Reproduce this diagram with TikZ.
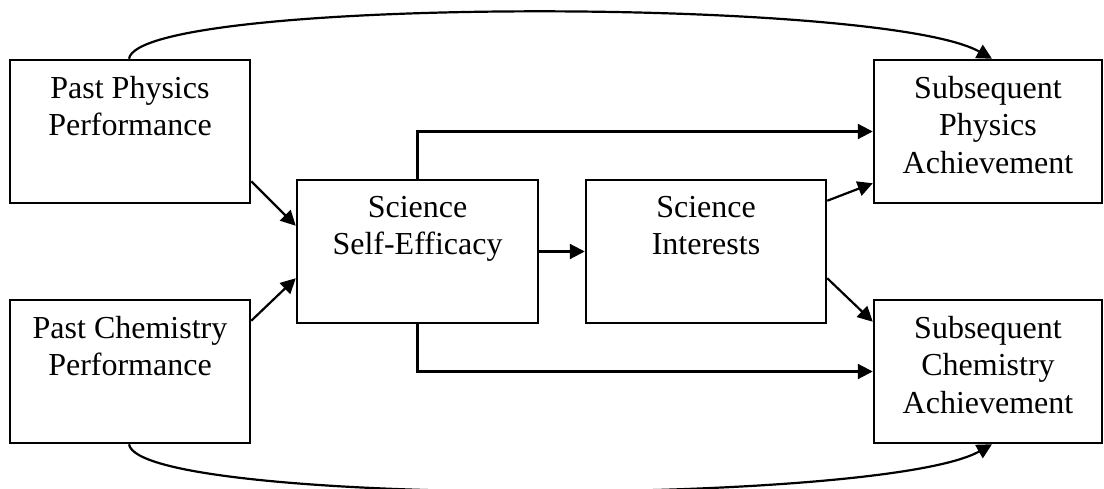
\documentclass[tikz,border=0pt]{standalone}
\usepackage{fontspec}
\setmainfont{Liberation Serif}
\usetikzlibrary{arrows.meta}

\tikzset{
    box/.style={rectangle, draw=black, line width=2.5pt, fill=white,
                minimum width=240pt, minimum height=143pt, inner sep=0pt},
    boxtext/.style={anchor=north, inner sep=0pt, yshift=-17pt, align=center,
                    font=\fontsize{32}{37.5}\selectfont}
}

\begin{document}
\begin{tikzpicture}[x=1pt, y=-1pt]
\useasboundingbox (0,0) rectangle (1104,489);

\node (pastphys) at (130, 131.5) [box, label={[boxtext]north:Past Physics\\Performance}] {};
\node (pastchem) at (130, 371.5) [box, label={[boxtext]north:Past Chemistry\\Performance}] {};

\node (selfeff) at (417.5, 251.5) [box, minimum width=241pt, label={[boxtext]north:Science\\Self-Efficacy}] {};
\node (interest) at (706, 251.5) [box, label={[boxtext]north:Science\\Interests}] {};

\node (subphys) at (988, 131.5) [box, minimum width=228pt, label={[boxtext]north:Subsequent\\Physics\\Achievement}] {};
\node (subchem) at (988, 371.5) [box, minimum width=228pt, label={[boxtext]north:Subsequent\\Chemistry\\Achievement}] {};

\begin{scope}[>={Triangle[length=15pt, width=15pt]},
              every edge/.style={draw=black, line width=2.2pt}]
    \path [->] ([yshift=23pt]pastphys.south east) edge ([yshift=-47pt]selfeff.north west);
    \path [->] ([yshift=-22pt]pastchem.north east) edge ([yshift=46pt]selfeff.south west);

    \path [->] (selfeff.east) edge (interest.west);

    \path [->] ([yshift=-22pt]interest.north east) edge ([yshift=21pt]subphys.south west);
    \path [->] ([yshift=46pt]interest.south east) edge ([yshift=-23pt]subchem.north west);

    \draw [->, line width=2.2pt] (selfeff.north) |- (subphys.west);
    \draw [->, line width=2.2pt] (selfeff.south) |- (subchem.west);

    % long curved paths
    \draw [->, line width=2.2pt] ([xshift=-1pt]pastphys.north)
        .. controls +(10,-62) and +(-110,-62) .. ([xshift=4pt]subphys.north);
    \draw [->, line width=2.2pt] ([xshift=-1pt]pastchem.south)
        .. controls +(10,62) and +(-110,62) .. ([xshift=4pt]subchem.south);
\end{scope}
\end{tikzpicture}
\end{document}
